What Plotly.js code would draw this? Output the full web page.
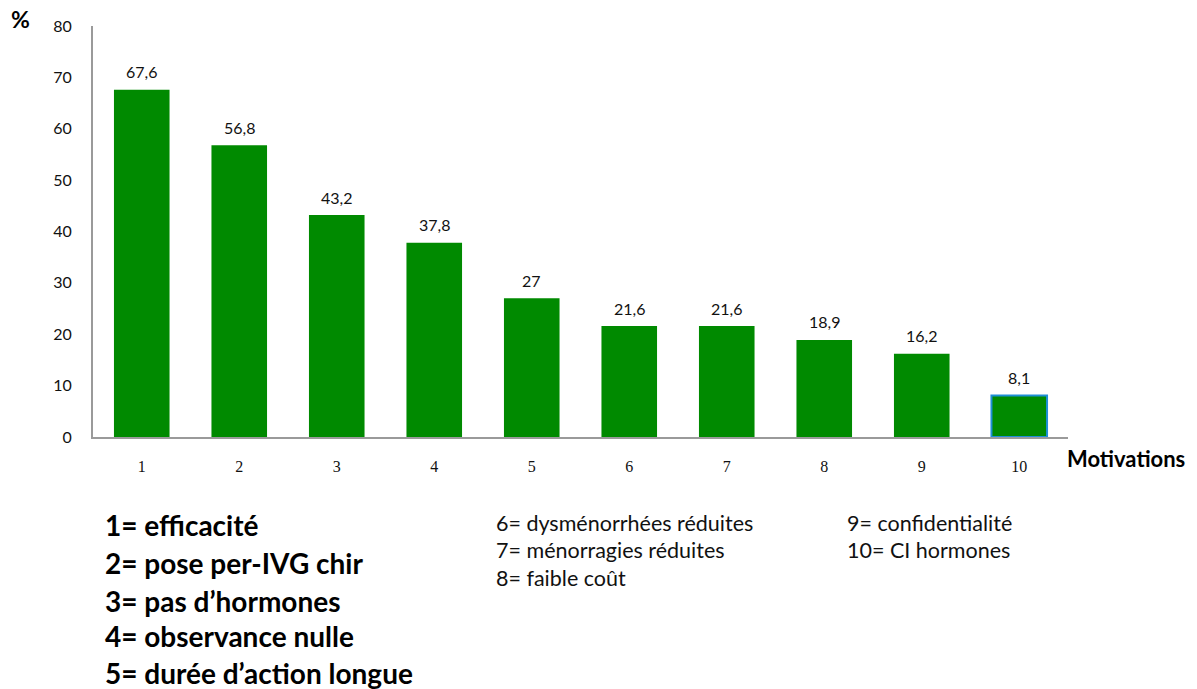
<!DOCTYPE html>
<html>
<head>
<meta charset="utf-8">
<script src="https://cdn.plot.ly/plotly-3.0.1.min.js"></script>
<style>html,body{margin:0;padding:0;background:#fff;}#chart{width:1197px;height:689px;}</style>
</head>
<body>
<div id="chart"></div>
<script>
const categories = ["1","2","3","4","5","6","7","8","9","10"];
const values = [67.6, 56.8, 43.2, 37.8, 27, 21.6, 21.6, 18.9, 16.2, 8.1];
const valueLabels = ["67,6","56,8","43,2","37,8","27","21,6","21,6","18,9","16,2","8,1"];
const yTicks = [0,10,20,30,40,50,60,70,80];
const legendBold = ["1= efficacité","2= pose per-IVG chir","3= pas d’hormones","4= observance nulle","5= durée d’action longue"];
const legendMid = ["6= dysménorrhées réduites","7= ménorragies réduites","8= faible coût"];
const legendRight = ["9= confidentialité","10= CI hormones"];

const green = '#008a00';
const lineColors = categories.map((c,i)=> i===categories.length-1 ? '#1f8fd6' : green);
const lineWidths = categories.map((c,i)=> i===categories.length-1 ? 2 : 0);

const trace = {
  type:'bar', x:categories, y:values,
  marker:{color:green, line:{color:lineColors, width:lineWidths}},
  width:0.57, hoverinfo:'skip'
};

const annotations = [];
values.forEach((v,i)=>{
  annotations.push({x:i, y:v, xref:'x', yref:'y', text:valueLabels[i], showarrow:false,
    yanchor:'middle', yshift:18, font:{family:'Lato, sans-serif', size:16, color:'#111'}});
});
const H = 411, W = 975, X0 = 93, Y0 = 437;
function px(x){return (x-X0)/W;}
function py(y){return (Y0-y)/H;}
const boldY = [525,563,601,636,673];
legendBold.forEach((t,i)=>annotations.push({xref:'paper', yref:'paper', x:px(103), y:py(boldY[i]), xanchor:'left', yanchor:'middle', text:'<b>'+t+'</b>', showarrow:false, font:{family:'Lato, sans-serif', size:28, color:'#000'}}));
const midY = [523,550,578];
legendMid.forEach((t,i)=>annotations.push({xref:'paper', yref:'paper', x:px(494), y:py(midY[i]), xanchor:'left', yanchor:'middle', text:t, showarrow:false, font:{family:'Lato, sans-serif', size:21.5, color:'#111'}}));
legendRight.forEach((t,i)=>annotations.push({xref:'paper', yref:'paper', x:px(845), y:py(midY[i]), xanchor:'left', yanchor:'middle', text:t, showarrow:false, font:{family:'Lato, sans-serif', size:21.5, color:'#111'}}));
annotations.push({xref:'paper', yref:'paper', x:px(9), y:py(19), xanchor:'left', yanchor:'middle', text:'<b>%</b>', showarrow:false, font:{family:'Lato, sans-serif', size:23, color:'#000'}});
annotations.push({xref:'paper', yref:'paper', x:px(1065), y:py(458), xanchor:'left', yanchor:'middle', text:'<b>Motivations</b>', showarrow:false, font:{family:'Lato, sans-serif', size:22, color:'#000'}});

const layout = {
  width:1197, height:689,
  margin:{l:93, r:129, t:26, b:252},
  paper_bgcolor:'#fff', plot_bgcolor:'#fff',
  showlegend:false,
  xaxis:{type:'category', range:[-0.5,9.5], showline:true, linecolor:'#9a9a9a', linewidth:2, showgrid:false, zeroline:false,
    ticks:'', ticklabelstandoff:14, tickfont:{family:'Liberation Serif, Times New Roman, serif', size:16, color:'#111'}},
  yaxis:{range:[0,80], tickvals:yTicks, showline:true, linecolor:'#9a9a9a', linewidth:2, showgrid:false, zeroline:false,
    ticks:'', ticklabelstandoff:16, tickfont:{family:'Lato, sans-serif', size:16, color:'#111'}},
  annotations:annotations
};
Plotly.newPlot('chart',[trace],layout,{displayModeBar:false, staticPlot:true});
</script>
</body>
</html>
